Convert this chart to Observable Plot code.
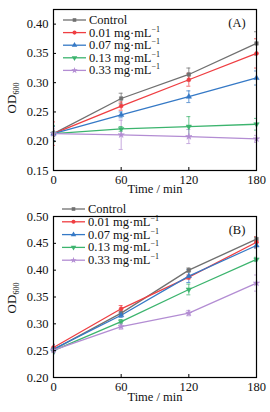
<!DOCTYPE html>
<html><head><meta charset="utf-8">
<script src="https://cdn.jsdelivr.net/npm/d3@7"></script>
<script src="https://cdn.jsdelivr.net/npm/@observablehq/plot@0.6"></script>
<style>
body{margin:0;background:#fff}
#chart > div{line-height:0;height:auto}
svg{display:block}
</style>
</head><body><div id="chart"></div>
<script>
// ---- data ----
const times = [0, 60, 120, 180];
const seriesLabels = ["Control", "0.01 mg·mL", "0.07 mg·mL", "0.13 mg·mL", "0.33 mg·mL"];
const seriesColors = ["#707070", "#ef3e42", "#3579c6", "#3cb46e", "#b38dd3"];
const seriesSymbols = ["square", "circle", "triangle", "triangle", "star"];
const seriesRotate = [0, 0, 0, 180, 0];

// Panel A: OD600 values (rows = series, cols = times)
const valuesA = [
  [0.213, 0.273, 0.314, 0.367],
  [0.213, 0.260, 0.305, 0.350],
  [0.213, 0.245, 0.276, 0.308],
  [0.213, 0.221, 0.225, 0.229],
  [0.213, 0.211, 0.208, 0.204]
];
const errorsA = [
  [0.005, 0.009, 0.011, 0.020],
  [0.020, 0.007, 0.011, 0.025],
  [0.012, 0.005, 0.010, 0.012],
  [0.014, 0.004, 0.017, 0.010],
  [0.008, 0.025, 0.012, 0.006]
];
const yTicksA = [0.15, 0.20, 0.25, 0.30, 0.35, 0.40];

// Panel B
const valuesB = [
  [0.252, 0.320, 0.400, 0.458],
  [0.256, 0.328, 0.387, 0.452],
  [0.253, 0.316, 0.389, 0.446],
  [0.250, 0.304, 0.364, 0.420],
  [0.251, 0.295, 0.320, 0.376]
];
const errorsB = [
  [0.006, 0.004, 0.004, 0.004],
  [0.006, 0.006, 0.004, 0.010],
  [0.008, 0.004, 0.012, 0.005],
  [0.006, 0.004, 0.010, 0.004],
  [0.005, 0.005, 0.005, 0.015]
];
const yTicksB = [0.20, 0.25, 0.30, 0.35, 0.40, 0.45, 0.50];

const FONT = "Liberation Serif, Times New Roman, serif";

function panel({values, errors, yTicks, yDomain, height, marginTop, marginBottom, tag, legendTop, legendStep, legendX, ylabelY, xLabelDy}) {
  const rows = [];
  values.forEach((vals, s) => vals.forEach((v, j) => rows.push({t: times[j], v, e: errors[s][j], s, c: seriesColors[s]})));
  const width = 270, marginLeft = 53, marginRight = 14;
  const plotH = height - marginTop - marginBottom;
  const plotW = width - marginLeft - marginRight;
  const pxY = (yDomain[1] - yDomain[0]) / plotH; // data per px
  const pxX = 180 / plotW;
  const cap = 2 * pxX;
  const dots = seriesLabels.map((_, s) => Plot.dot(rows.filter(d => d.s === s), {
    x: "t", y: "v", fill: "c", stroke: "c", strokeWidth: 0.5,
    symbol: () => seriesSymbols[s], r: 2, rotate: seriesRotate[s]
  }));
  const chart = Plot.plot({
    width, height, marginLeft, marginRight, marginTop, marginBottom,
    style: {fontFamily: FONT, fontSize: "12.5px", color: "#111", background: "#fff"},
    x: {domain: [0, 180]},
    y: {domain: yDomain},
    color: {type: "identity"},
    symbol: {type: "identity"},
    marks: [
      Plot.ruleX(rows, {x: "t", y1: d => d.v - d.e, y2: d => d.v + d.e, stroke: "c", strokeOpacity: 0.75, clip: true}),
      Plot.ruleY(rows, {y: d => d.v - d.e, x1: d => d.t - cap, x2: d => d.t + cap, stroke: "c", strokeOpacity: 0.75, clip: true}),
      Plot.ruleY(rows, {y: d => d.v + d.e, x1: d => d.t - cap, x2: d => d.t + cap, stroke: "c", strokeOpacity: 0.75, clip: true}),
      Plot.line(rows, {x: "t", y: "v", z: "s", stroke: "c", strokeWidth: 1.3}),
      ...dots,
      Plot.ruleY(yTicks, {y: d => d, x1: 0, x2: 3 * pxX, stroke: "black"}),
      Plot.ruleX(times.slice(1, 3), {x: d => d, y1: yDomain[0], y2: yDomain[0] + 3 * pxY, stroke: "black"}),
      Plot.frame({stroke: "black", strokeWidth: 1.2}),
      Plot.axisY({ticks: yTicks, tickFormat: d3.format(".2f"), tickSize: 0, tickPadding: 5, label: null}),
      Plot.axisX({ticks: times, tickFormat: d => String(d), tickSize: 0, tickPadding: 5, label: null}),
      Plot.text(["Time / min"], {frameAnchor: "bottom", dy: xLabelDy, text: d => d, fontSize: 12.5})
    ]
  });
  const svg = d3.select(chart);
  // y label OD600
  const yl = svg.append("text")
    .attr("transform", `translate(16,${ylabelY}) rotate(-90)`)
    .attr("text-anchor", "middle")
    .attr("font-family", FONT).attr("font-size", 13).attr("fill", "#111");
  yl.append("tspan").text("OD");
  yl.append("tspan").attr("font-size", 8).attr("dy", 3).text("600");
  // panel tag
  svg.append("text").attr("x", width - marginRight - 19).attr("y", marginTop + 18)
    .attr("text-anchor", "middle").attr("font-family", FONT).attr("font-size", 12.5).attr("fill", "#111").text(tag);
  // legend
  const g = svg.append("g").attr("font-family", FONT).attr("font-size", 12.5).attr("text-anchor", "start");
  seriesLabels.forEach((lab, s) => {
    const y = legendTop + s * legendStep;
    g.append("line").attr("x1", legendX).attr("x2", legendX + 23).attr("y1", y).attr("y2", y)
      .attr("stroke", seriesColors[s]).attr("stroke-width", 1.3);
    const sym = d3.symbol().type({square: d3.symbolSquare, circle: d3.symbolCircle, triangle: d3.symbolTriangle, star: d3.symbolStar}[seriesSymbols[s]]).size(13);
    g.append("path").attr("d", sym()).attr("fill", seriesColors[s])
      .attr("transform", `translate(${legendX + 11.5},${y}) rotate(${seriesRotate[s]})`);
    const t = g.append("text").attr("x", legendX + 26).attr("y", y + 4).attr("fill", "#111").attr("text-anchor", "start");
    t.append("tspan").text(lab);
    if (s > 0) t.append("tspan").attr("font-size", 8).attr("dy", -5).text("−1");
  });
  return chart;
}

const root = document.getElementById("chart");
root.append(panel({values: valuesA, errors: errorsA, yTicks: yTicksA, yDomain: [0.15, 0.425],
  height: 200, marginTop: 9, marginBottom: 30, tag: "(A)", legendTop: 20, legendStep: 12.6, legendX: 63, ylabelY: 98, xLabelDy: 22}));
root.append(panel({values: valuesB, errors: errorsB, yTicks: yTicksB, yDomain: [0.20, 0.50],
  height: 212, marginTop: 16, marginBottom: 35, tag: "(B)", legendTop: 9, legendStep: 12.8, legendX: 62, ylabelY: 98, xLabelDy: 23}));
</script>
</body></html>
